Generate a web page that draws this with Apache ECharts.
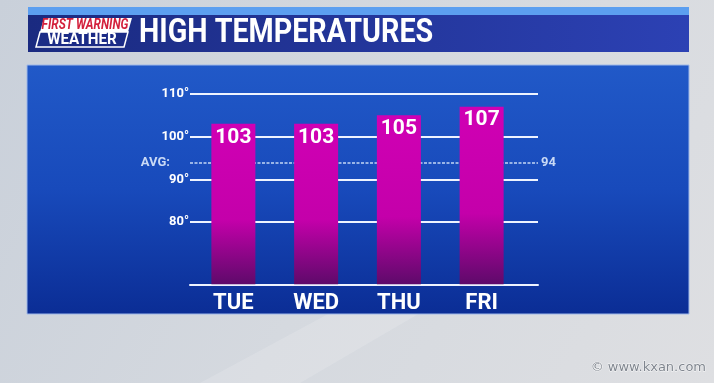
<!DOCTYPE html>
<html>
<head>
<meta charset="utf-8">
<script src="https://cdn.jsdelivr.net/npm/echarts@6/dist/echarts.min.js"></script>
<style>
html,body{margin:0;padding:0;background:#d3d8df;}
#c{width:714px;height:383px;}
</style>
</head>
<body>
<div id="c"></div>
<script>
const days = ['TUE', 'WED', 'THU', 'FRI'];
const highs = [103, 103, 105, 107];
const gridTemps = [80, 90, 100, 110];
const avgTemp = 94;
const axisMin = 65.5;
const axisMax = 110;

const F = "Roboto, 'DejaVu Sans', sans-serif";
const W = 'bold';
const chart = echarts.init(document.getElementById('c'), null, {renderer: 'canvas'});

const gridLineStyle = {color: '#eef3ff', width: 2, type: 'solid'};
const markData = gridTemps.map(v => ({
  yAxis: v,
  lineStyle: gridLineStyle,
  label: {
    show: true, position: 'start', distance: 1, formatter: v + '°',
    color: '#ffffff', fontSize: 13, fontWeight: W, fontFamily: F,
    padding: [0, 0, 8, 0]
  }
}));
markData.push({
  yAxis: avgTemp,
  lineStyle: {color: '#c4d6f5', width: 1.5, type: [3, 1.5]},
  label: {
    show: true, position: 'start', distance: 20, formatter: 'AVG:',
    color: '#c9d9f5', fontSize: 13, fontWeight: W, fontFamily: F
  }
});
markData.push({
  yAxis: avgTemp,
  lineStyle: {color: 'rgba(0,0,0,0)', width: 0},
  label: {
    show: true, position: 'end', distance: 3, formatter: String(avgTemp),
    color: '#c9d9f5', fontSize: 13, fontWeight: W, fontFamily: F
  }
});

const option = {
  animation: false,
  backgroundColor: 'transparent',
  graphic: [
    {type: 'rect', z: -10, shape: {x: 0, y: 0, width: 714, height: 383},
      style: {fill: new echarts.graphic.LinearGradient(0, 0, 1, 1, [
        {offset: 0, color: '#c9d0da'}, {offset: 0.5, color: '#d5d9df'}, {offset: 1, color: '#dedfe2'}])}},
    {type: 'polygon', z: -9, shape: {points: [[200, 383], [330, 313], [420, 313], [300, 383]]},
      style: {fill: 'rgba(255,255,255,0.15)'}},
    {type: 'rect', z: -8, shape: {x: 28, y: 7, width: 661, height: 8}, style: {fill: '#5c9ff0'}},
    {type: 'rect', z: -8, shape: {x: 28, y: 15, width: 661, height: 37},
      style: {fill: new echarts.graphic.LinearGradient(0, 0, 1, 0, [
        {offset: 0, color: '#1a2a80'}, {offset: 1, color: '#2c41b4'}])}},
    {type: 'rect', z: -8, shape: {x: 27, y: 65, width: 662, height: 249},
      style: {fill: new echarts.graphic.LinearGradient(0, 0, 0, 1, [
        {offset: 0, color: '#2159c8'}, {offset: 0.5, color: '#184abb'}, {offset: 1, color: '#0b2d95'}]),
        stroke: '#9fb8e8', lineWidth: 1}},
    {type: 'polygon', z: 5, shape: {points: [[44, 18], [132, 18], [128, 32], [40, 32]]},
      style: {fill: '#ffffff'}},
    {type: 'polygon', z: 5, shape: {points: [[40, 32], [128, 32], [124, 47], [36, 47]]},
      style: {fill: '#1b2b86', stroke: '#ffffff', lineWidth: 1.5}},
    {type: 'text', z: 6, x: 85, y: 25.5, scaleX: 0.85, originX: 0, originY: 0,
      style: {x: 0, y: 0, text: 'FIRST WARNING', fill: '#d3203c',
      font: "italic bold 14px Roboto, sans-serif",
      textAlign: 'center', textVerticalAlign: 'middle'}},
    {type: 'text', z: 6, x: 82, y: 40, scaleX: 0.95, originX: 0, originY: 0,
      style: {x: 0, y: 0, text: 'WEATHER', fill: '#ffffff',
      font: "bold 16px Roboto, sans-serif", textAlign: 'center', textVerticalAlign: 'middle'}},
    {type: 'text', z: 6, x: 139, y: 34, scaleX: 0.87, originX: 0, originY: 0,
      style: {x: 0, y: 0, text: 'HIGH TEMPERATURES', fill: '#ffffff',
      font: "bold 33px Roboto, sans-serif", textAlign: 'left', textVerticalAlign: 'middle'}},
    {type: 'text', z: 6, style: {x: 706, y: 368, text: '© www.kxan.com', fill: '#7f858e',
      font: "13px 'DejaVu Sans', sans-serif", textAlign: 'right', textVerticalAlign: 'middle',
      stroke: 'rgba(255,255,255,0.8)', lineWidth: 1}}
  ],
  grid: [
    {left: 190, right: 176, top: 93.8, bottom: 98.7},
    {left: 192, right: 191, top: 93.8, bottom: 98.7}
  ],
  xAxis: [
    {gridIndex: 0, type: 'category', data: days, z: 1,
      axisLine: {show: true, onZero: false, lineStyle: {color: '#eef3ff', width: 2}},
      axisTick: {show: false}, axisLabel: {show: false}, splitLine: {show: false}},
    {gridIndex: 1, type: 'category', data: days,
      axisLine: {show: false}, axisTick: {show: false}, splitLine: {show: false},
      axisLabel: {color: '#ffffff', fontSize: 22, fontWeight: W, fontFamily: F, margin: 8}}
  ],
  yAxis: [
    {gridIndex: 0, type: 'value', min: axisMin, max: axisMax, show: false, splitLine: {show: false}},
    {gridIndex: 1, type: 'value', min: axisMin, max: axisMax, show: false, splitLine: {show: false}}
  ],
  series: [
    {type: 'line', xAxisIndex: 0, yAxisIndex: 0, data: [], z: 1, silent: true,
      markLine: {symbol: 'none', silent: true, animation: false, z: 1, data: markData}},
    {type: 'bar', xAxisIndex: 1, yAxisIndex: 1, data: highs, barWidth: 44, z: 10,
      itemStyle: {color: new echarts.graphic.LinearGradient(0, 0, 0, 1, [
        {offset: 0, color: '#d000b4'}, {offset: 0.6, color: '#c400aa'}, {offset: 1, color: '#5e0a6a'}])},
      label: {show: true, position: 'insideTop', distance: 3, color: '#ffffff',
        fontSize: 21, fontWeight: W, fontFamily: F}}
  ]
};
chart.setOption(option);
</script>
</body>
</html>
